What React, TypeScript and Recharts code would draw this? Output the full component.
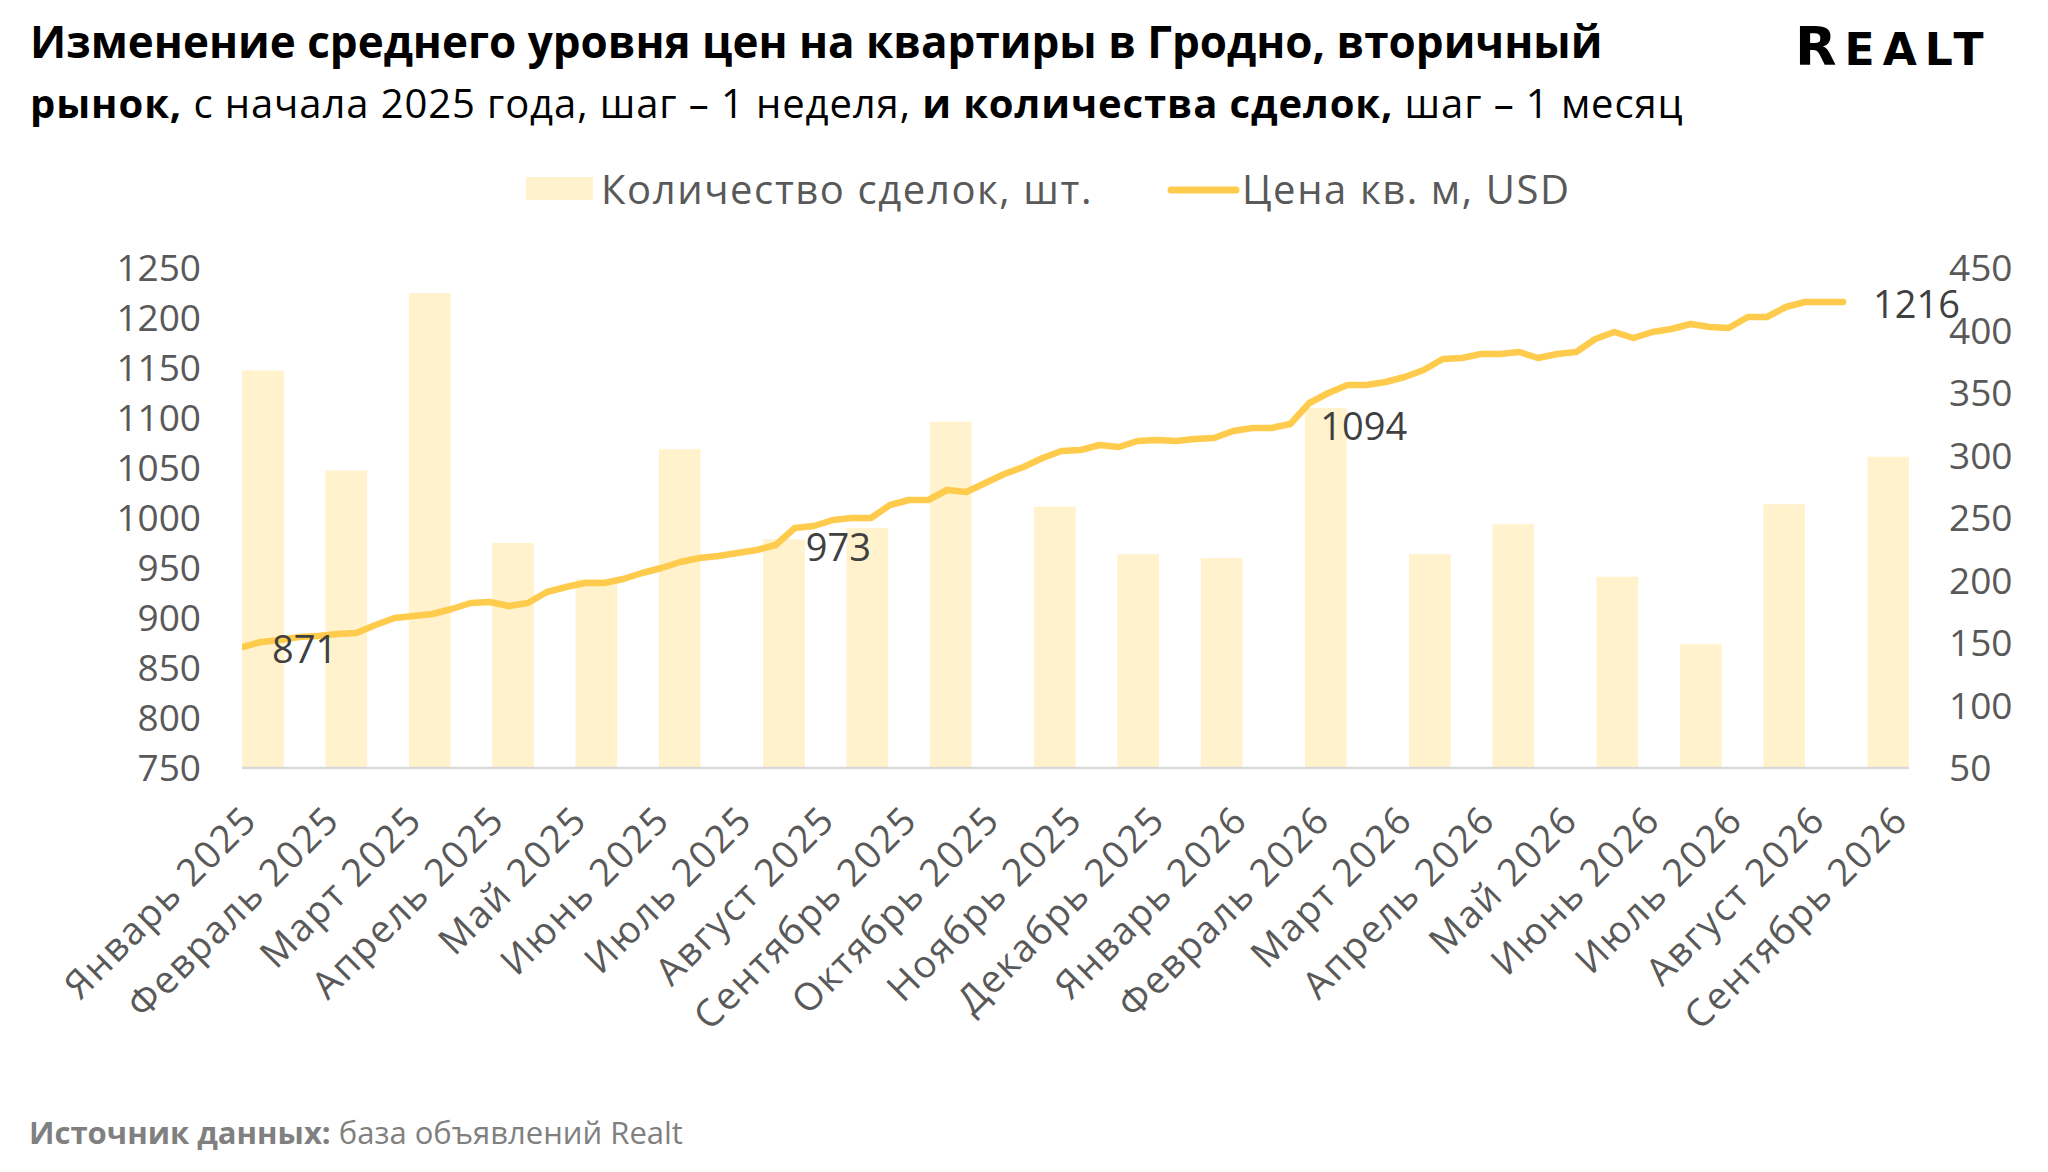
import { ComposedChart, Bar, Line, XAxis, YAxis, LabelList } from 'recharts'

const FONT = '"Open Sans", "Noto Sans", sans-serif'
const TICK_GREY = '#595959'
const LABEL_GREY = '#404040'
const LINE_GOLD = '#FFCB4C'
const BAR_GOLD = '#FFF2CC'

// Month axis: 80 slots (one per week of the bar grid), a caption every 4 slots.
const MONTH_TICKS = [0, 4, 8, 12, 16, 20, 24, 28, 32, 36, 40, 44, 48, 52, 56, 60, 64, 68, 72, 76, 80]
const MONTH_LABELS = [
  'Январь 2025', 'Февраль 2025', 'Март 2025', 'Апрель 2025', 'Май 2025', 'Июнь 2025',
  'Июль 2025', 'Август 2025', 'Сентябрь 2025', 'Октябрь 2025', 'Ноябрь 2025', 'Декабрь 2025',
  'Январь 2026', 'Февраль 2026', 'Март 2026', 'Апрель 2026', 'Май 2026', 'Июнь 2026',
  'Июль 2026', 'Август 2026', 'Сентябрь 2026',
]

// Deals per month: slot where the bar starts (bars are 2 slots wide) and the count.
const DEAL_SLOTS = [0, 4, 8, 12, 16, 20, 25, 29, 33, 38, 42, 46, 51, 56, 60, 65, 69, 73, 78]
const DEAL_COUNTS = [368, 288, 430, 230, 201, 305, 233, 242, 327, 259, 221, 218, 338, 221, 245, 203, 149, 261, 299]

// Average price per sq. m, USD, one point per week from the start of 2025.
const PRICE_USD = [
  871, 876, 878, 881, 882, 884, 885, 893, 900, 902,
  904, 909, 915, 916, 912, 915, 926, 931, 935, 935,
  939, 945, 950, 956, 960, 962, 965, 968, 973, 990,
  992, 998, 1000, 1000, 1013, 1018, 1018, 1028, 1026, 1035,
  1044, 1051, 1060, 1067, 1068, 1073, 1071, 1077, 1078, 1077,
  1079, 1080, 1087, 1090, 1090, 1094, 1115, 1125, 1133, 1133,
  1136, 1141, 1148, 1159, 1160, 1164, 1164, 1166, 1160, 1164,
  1166, 1179, 1186, 1180, 1186, 1189, 1194, 1191, 1190, 1201,
  1201, 1211, 1216, 1216, 1216,
]
// Weeks whose price carries a data label.
const LABELLED_WEEKS = [0, 28, 55, 84]

const PRICE_TICKS = [750, 800, 850, 900, 950, 1000, 1050, 1100, 1150, 1200, 1250]
const DEAL_TICKS = [50, 100, 150, 200, 250, 300, 350, 400, 450]

const dealRows = DEAL_SLOTS.map((slot, i) => ({ slot: slot + 1, deals: DEAL_COUNTS[i] }))
const priceRows = PRICE_USD.map((price, week) => ({ week, price }))

function MonthTick({ x, y, payload }: { x?: number; y?: number; payload?: { value: number; index: number } }) {
  const k = MONTH_TICKS.indexOf(payload?.value ?? 0)
  // captions in the original drift slightly left of the slot grid
  const tx = (x ?? 0) - 2 - 0.8 * k
  const ty = y ?? 0
  return (
    <text
      x={tx}
      y={ty}
      dy="0.71em"
      textAnchor="end"
      transform={`rotate(-45, ${tx}, ${ty})`}
      fill={TICK_GREY}
      fontSize={38}
      fontFamily={FONT}
      letterSpacing={1.8}
    >
      {MONTH_LABELS[k]}
    </text>
  )
}

function PriceLabel(props: { x?: number; y?: number; value?: number | string; index?: number }) {
  const { x, y, value, index } = props
  if (index == null || !LABELLED_WEEKS.includes(index)) return null
  return (
    <text
      x={(x ?? 0) + 30}
      y={(y ?? 0) + 1}
      dominantBaseline="central"
      fill={LABEL_GREY}
      fontSize={38}
      fontFamily={FONT}
    >
      {value}
    </text>
  )
}

export default function App() {
  const tickStyle = { fill: TICK_GREY, fontSize: 37, fontFamily: FONT }
  return (
    <div style={{ position: 'absolute', left: 0, top: 0, width: 2048, height: 1172, background: '#fff' }}>
      <ComposedChart
        width={2048}
        height={1172}
        data={dealRows}
        margin={{ top: 268, right: 0, bottom: 104, left: 0 }}
      >
        <XAxis
          xAxisId="months"
          type="number"
          dataKey="slot"
          domain={[0, 80]}
          allowDataOverflow
          ticks={MONTH_TICKS}
          interval={0}
          height={300}
          tickLine={false}
          tickSize={0}
          tickMargin={35}
          axisLine={{ stroke: '#D9D9D9', strokeWidth: 2.5 }}
          tick={<MonthTick />}
        />
        <XAxis
          xAxisId="weeks"
          type="number"
          dataKey="week"
          domain={[0, 87.46]}
          allowDataOverflow
          hide
        />
        <YAxis
          yAxisId="price"
          orientation="left"
          width={242}
          domain={[750, 1250]}
          ticks={PRICE_TICKS}
          interval={0}
          allowDataOverflow
          axisLine={false}
          tickLine={false}
          tickSize={0}
          tickMargin={41}
          tick={tickStyle}
        />
        <YAxis
          yAxisId="deals"
          orientation="right"
          width={139}
          domain={[50, 450]}
          ticks={DEAL_TICKS}
          interval={0}
          allowDataOverflow
          axisLine={false}
          tickLine={false}
          tickSize={0}
          tickMargin={40}
          tick={{ ...tickStyle, textAnchor: 'start' }}
        />
        <Bar
          xAxisId="months"
          yAxisId="deals"
          dataKey="deals"
          name="Количество сделок, шт."
          fill={BAR_GOLD}
          barSize={41.7}
          isAnimationActive={false}
        />
        <Line
          data={priceRows}
          xAxisId="weeks"
          yAxisId="price"
          dataKey="price"
          name="Цена кв. м, USD"
          type="linear"
          stroke={LINE_GOLD}
          strokeWidth={6.5}
          strokeLinecap="round"
          strokeLinejoin="round"
          dot={false}
          isAnimationActive={false}
        >
          <LabelList dataKey="price" content={<PriceLabel />} />
        </Line>
      </ComposedChart>

      {/* title, legend, source and logo sit over the chart */}
      <svg
        width={2048}
        height={1172}
        style={{ position: 'absolute', left: 0, top: 0, pointerEvents: 'none' }}
        fontFamily={FONT}
      >
        <text x={30} y={58} fontSize={44} fontWeight={700} fill="#000">
          Изменение среднего уровня цен на квартиры в Гродно, вторичный
        </text>
        <text x={30} y={118} fontSize={40} fill="#000" letterSpacing={0.9}>
          <tspan fontWeight={700}>рынок,</tspan>
          <tspan fontWeight={400}> с начала 2025 года, шаг – 1 неделя, </tspan>
          <tspan fontWeight={700}>и количества сделок,</tspan>
          <tspan fontWeight={400}> шаг – 1 месяц</tspan>
        </text>

        <text x={1795} y={65} fontFamily='"DejaVu Sans", sans-serif' fontWeight={700} fill="#000" letterSpacing={8}>
          <tspan fontSize={54}>R</tspan>
          <tspan fontSize={44}>EALT</tspan>
        </text>

        <rect x={526} y={177} width={67} height={23} fill={BAR_GOLD} />
        <text x={601} y={204} fontSize={40} fill={TICK_GREY} letterSpacing={1.6}>
          Количество сделок, шт.
        </text>
        <line x1={1171} y1={190} x2={1236} y2={190} stroke={LINE_GOLD} strokeWidth={7} strokeLinecap="round" />
        <text x={1242} y={204} fontSize={40} fill={TICK_GREY} letterSpacing={1.6}>
          Цена кв. м, USD
        </text>

        <text x={29} y={1144} fontSize={31} fill="#808080">
          <tspan fontWeight={700}>Источник данных:</tspan>
          <tspan fontWeight={400}> база объявлений Realt</tspan>
        </text>
      </svg>
    </div>
  )
}
